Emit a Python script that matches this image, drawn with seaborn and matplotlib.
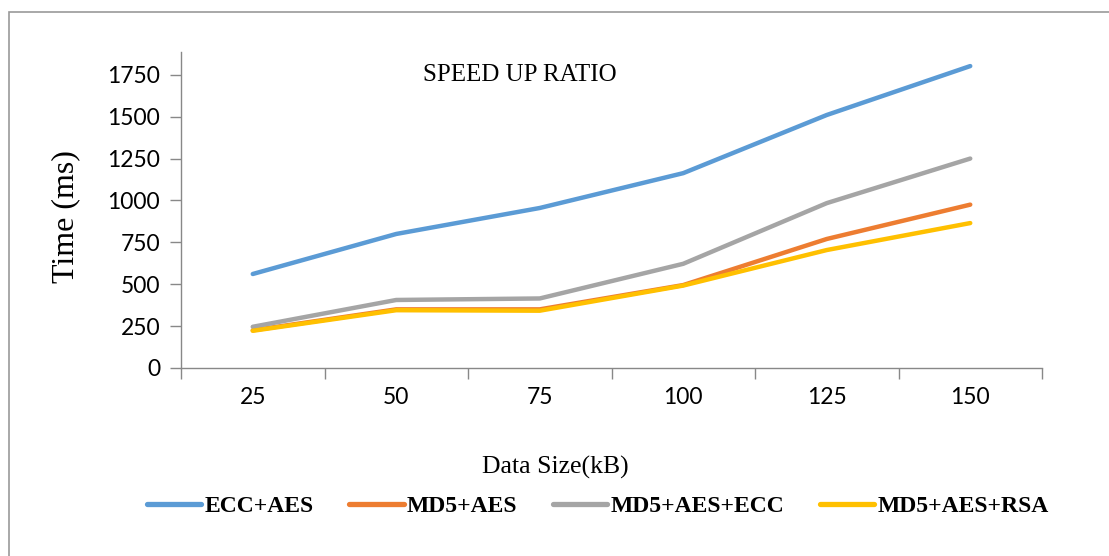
import matplotlib
matplotlib.use("Agg")
import matplotlib.pyplot as plt
from matplotlib.patches import Rectangle
import seaborn as sns
import pandas as pd

data_sizes = ["25", "50", "75", "100", "125", "150"]
ecc_aes = [561, 800, 955, 1163, 1510, 1802]
md5_aes = [225, 350, 350, 495, 770, 975]
md5_aes_ecc = [246, 406, 415, 622, 984, 1250]
md5_aes_rsa = [222, 345, 342, 492, 704, 865]
series_names = ["ECC+AES", "MD5+AES", "MD5+AES+ECC", "MD5+AES+RSA"]
yticks = [0, 250, 500, 750, 1000, 1250, 1500, 1750]
colors = ["#5B9BD5", "#ED7D31", "#A5A5A5", "#FFC000"]

rows = []
for name, vals in zip(series_names, [ecc_aes, md5_aes, md5_aes_ecc, md5_aes_rsa]):
    for x, v in zip(data_sizes, vals):
        rows.append({"size": x, "time": v, "series": name})
df = pd.DataFrame(rows)

sns.set_style("white")
fig = plt.figure(figsize=(11.09, 5.56), dpi=100)
ax = fig.add_axes([181/1109, 1-368/556, (1042-181)/1109, (368-52)/556])

sns.lineplot(data=df, x="size", y="time", hue="series", hue_order=series_names,
             palette=colors, linewidth=3.2, ax=ax, legend=False, sort=False)

ax.set_xlim(-0.5, 5.5)
ax.set_ylim(0, 1886)
ax.set_yticks(yticks)
ax.set_yticklabels([str(t) for t in yticks], fontfamily="Lato", fontsize=16.5, color="black")
ax.set_xticks(range(len(data_sizes)))
ax.set_xticklabels(data_sizes, fontfamily="Lato", fontsize=16.5, color="black")
ax.set_xticks([i - 0.5 for i in range(len(data_sizes) + 1)], minor=True)
ax.tick_params(axis="x", which="major", bottom=True, length=0, pad=14)
ax.tick_params(axis="x", which="minor", bottom=True, length=8, color="#888888", width=1)
ax.tick_params(axis="y", which="major", left=True, length=8, color="#888888", width=1, pad=7)

for s in ["top", "right"]:
    ax.spines[s].set_visible(False)
for s in ["left", "bottom"]:
    ax.spines[s].set_color("#888888")
    ax.spines[s].set_linewidth(1)

ax.set_xlabel("")
ax.set_ylabel("")
fig.text(66/1109, 1-217/556, "Time (ms)", rotation=90, ha="center", va="center",
         fontfamily="Liberation Serif", fontsize=23, color="black")
fig.text(555/1109, 1-467/556, "Data Size(kB)", ha="center", va="center",
         fontfamily="Liberation Serif", fontsize=18.5, color="black")
fig.text(520/1109, 1-75/556, "SPEED UP RATIO", ha="center", va="center",
         fontfamily="Liberation Serif", fontsize=18, color="black")

handles = [plt.Line2D([0], [0], color=c, lw=3.8) for c in colors]
leg = fig.legend(handles, series_names, loc="center", bbox_to_anchor=(598/1109, 1-506/556),
                 ncol=4, frameon=False, handlelength=2.3, handletextpad=0.15, columnspacing=1.5,
                 prop={"family": "Liberation Serif", "weight": "bold", "size": 17})
for t in leg.get_texts():
    t.set_color("black")

fig.patches.append(Rectangle((9/1109, -0.1), 1.2, 1 - 12/556 + 0.1, transform=fig.transFigure,
                             fill=False, edgecolor="#999999", linewidth=1.2))

fig.savefig("out.png", dpi=100)
